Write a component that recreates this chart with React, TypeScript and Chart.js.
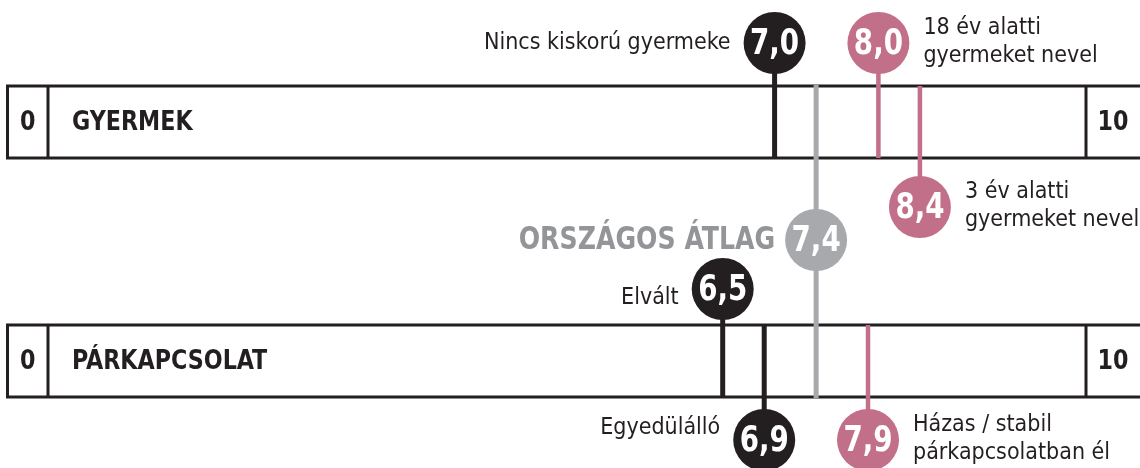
import { useEffect, useRef } from "react";
import { Chart, registerables } from "chart.js";

Chart.register(...registerables);

// ---------- data ----------
const categories = ["GYERMEK", "PÁRKAPCSOLAT"];
const scaleTickLabels = ["0", "10"];
const scaleTickValues = [0, 10];
const averageLabel = "ORSZÁGOS ÁTLAG";
const averageValue = 7.4;
const markerLabels = [
  "Nincs kiskorú gyermeke",
  "18 év alatti\ngyermeket nevel",
  "3 év alatti\ngyermeket nevel",
  "Elvált",
  "Egyedülálló",
  "Házas / stabil\npárkapcsolatban él",
];
const markerValues = [7.0, 8.0, 8.4, 6.5, 6.9, 7.9];
const markerCategory = [0, 0, 0, 1, 1, 1];
const markerSide = ["above", "above", "below", "above", "below", "below"];
const markerTone = ["dark", "pink", "pink", "dark", "dark", "pink"];

// ---------- layout / style ----------
const W = 1140;
const H = 468;
const BAR_Y = [
  [86, 158],
  [325, 397],
];
const CIRCLE_Y = [
  { above: 43, below: 207 },
  { above: 289, below: 440 },
];
const AVG_Y = 240;
const R = 31;
const LABEL_DY = [0, 0, 0, 9, -12, 0];
const COLORS: Record<string, string> = {
  dark: "#231f20",
  pink: "#c27089",
  grey: "#a7a9ac",
  greyText: "#939598",
};
const FONT = "'DejaVu Sans Condensed', 'DejaVu Sans', sans-serif";

const fmt = (v: number) => v.toFixed(1).replace(".", ",");

function squeezedText(ctx: any, text: string, x: number, y: number, sx: number) {
  ctx.save();
  ctx.translate(x, y);
  ctx.scale(sx, 1);
  ctx.fillText(text, 0, 0);
  ctx.restore();
}

export default function App() {
  const ref = useRef<HTMLCanvasElement | null>(null);

  useEffect(() => {
    const canvas = ref.current;
    if (!canvas) return;

    const stemDatasets: any[] = markerValues.map((v, i) => {
      const [top, bottom] = BAR_Y[markerCategory[i]];
      const cy = (CIRCLE_Y[markerCategory[i]] as any)[markerSide[i]];
      const ys = markerSide[i] === "above" ? [cy, bottom] : [top, cy];
      return {
        type: "line",
        data: [
          { x: v, y: ys[0] },
          { x: v, y: ys[1] },
        ],
        showLine: true,
        borderColor: COLORS[markerTone[i]],
        borderWidth: markerTone[i] === "dark" ? 5 : 4.5,
        borderCapStyle: "butt",
        pointRadius: 0,
        order: 2,
        clip: false,
      };
    });

    const avgStem = {
      type: "line",
      data: [
        { x: averageValue, y: BAR_Y[0][0] - 1 },
        { x: averageValue, y: BAR_Y[1][1] + 1 },
      ],
      showLine: true,
      borderColor: COLORS.grey,
      borderWidth: 5,
      borderCapStyle: "butt",
      pointRadius: 0,
      order: 3,
      clip: false,
    };

    const circleData = markerValues.map((v, i) => ({
      x: v,
      y: (CIRCLE_Y[markerCategory[i]] as any)[markerSide[i]],
    }));
    circleData.push({ x: averageValue, y: AVG_Y });
    const circleColors = markerTone.map((t) => COLORS[t]).concat([COLORS.grey]);

    const circles = {
      type: "scatter",
      data: circleData,
      pointRadius: R,
      pointHoverRadius: R,
      pointBackgroundColor: circleColors,
      pointBorderWidth: 0,
      borderWidth: 0,
      order: 0,
      clip: false,
    };

    const barsPlugin = {
      id: "bars",
      beforeDatasetsDraw(chart: any) {
        const ctx = chart.ctx;
        const xs = chart.scales.x;
        const x0 = xs.getPixelForValue(scaleTickValues[0]);
        const x10 = xs.getPixelForValue(scaleTickValues[1]);
        ctx.save();
        ctx.strokeStyle = COLORS.dark;
        ctx.fillStyle = COLORS.dark;
        ctx.lineWidth = 3;
        categories.forEach((cat, ci) => {
          const [top, bottom] = BAR_Y[ci];
          ctx.strokeRect(7.5, top, W + 20, bottom - top);
          ctx.beginPath();
          ctx.moveTo(x0, top);
          ctx.lineTo(x0, bottom);
          ctx.moveTo(x10, top);
          ctx.lineTo(x10, bottom);
          ctx.stroke();
          const mid = (top + bottom) / 2 + 1;
          ctx.textBaseline = "middle";
          ctx.font = `bold 26px ${FONT}`;
          ctx.textAlign = "center";
          squeezedText(ctx, scaleTickLabels[0], (7.5 + x0) / 2, mid, 0.95);
          squeezedText(ctx, scaleTickLabels[1], (x10 + W) / 2, mid, 0.95);
          ctx.textAlign = "left";
          squeezedText(ctx, cat, x0 + 24, mid, 0.95);
        });
        ctx.restore();
      },
      afterDatasetsDraw(chart: any) {
        const ctx = chart.ctx;
        const xs = chart.scales.x;
        const ys = chart.scales.y;
        ctx.save();
        ctx.textBaseline = "middle";
        // values in circles
        ctx.fillStyle = "#ffffff";
        ctx.textAlign = "center";
        ctx.font = `bold 35px ${FONT}`;
        circleData.forEach((p, i) => {
          const v = i < markerValues.length ? markerValues[i] : averageValue;
          squeezedText(ctx, fmt(v), xs.getPixelForValue(p.x), ys.getPixelForValue(p.y) + 2, 0.88);
        });
        // marker labels
        ctx.fillStyle = COLORS.dark;
        ctx.font = `23px ${FONT}`;
        markerLabels.forEach((lab, i) => {
          const px = xs.getPixelForValue(markerValues[i]);
          const py = ys.getPixelForValue(circleData[i].y);
          const right = markerTone[i] === "pink";
          ctx.textAlign = right ? "left" : "right";
          const lx = right ? px + R + 14 : px - R - 13;
          const lines = lab.split("\n");
          if (lines.length === 1) {
            ctx.fillText(lines[0], lx, py + LABEL_DY[i]);
          } else {
            ctx.fillText(lines[0], lx, py - 15);
            ctx.fillText(lines[1], lx, py + 13);
          }
        });
        // average label
        ctx.fillStyle = COLORS.greyText;
        ctx.font = `bold 32px ${FONT}`;
        ctx.textAlign = "right";
        squeezedText(
          ctx,
          averageLabel,
          xs.getPixelForValue(averageValue) - R - 10,
          ys.getPixelForValue(AVG_Y) + 1,
          0.875
        );
        ctx.restore();
      },
    };

    const chart = new Chart(canvas, {
      type: "scatter",
      data: { datasets: [circles, ...stemDatasets, avgStem] as any },
      options: {
        responsive: false,
        animation: false,
        devicePixelRatio: 1,
        layout: { autoPadding: false, padding: { left: 48, right: W - 1086, top: 0, bottom: 0 } },
        scales: {
          x: { type: "linear", min: 0, max: 10, display: false },
          y: { type: "linear", min: 0, max: H, reverse: true, display: false },
        },
        plugins: {
          legend: { display: false },
          tooltip: { enabled: false },
        },
        events: [],
      } as any,
      plugins: [barsPlugin],
    });

    return () => chart.destroy();
  }, []);

  return (
    <div style={{ position: "absolute", left: 0, top: 0, width: W, height: H, background: "#fff" }}>
      <canvas ref={ref} width={W} height={H} style={{ width: W, height: H, display: "block" }} />
    </div>
  );
}
